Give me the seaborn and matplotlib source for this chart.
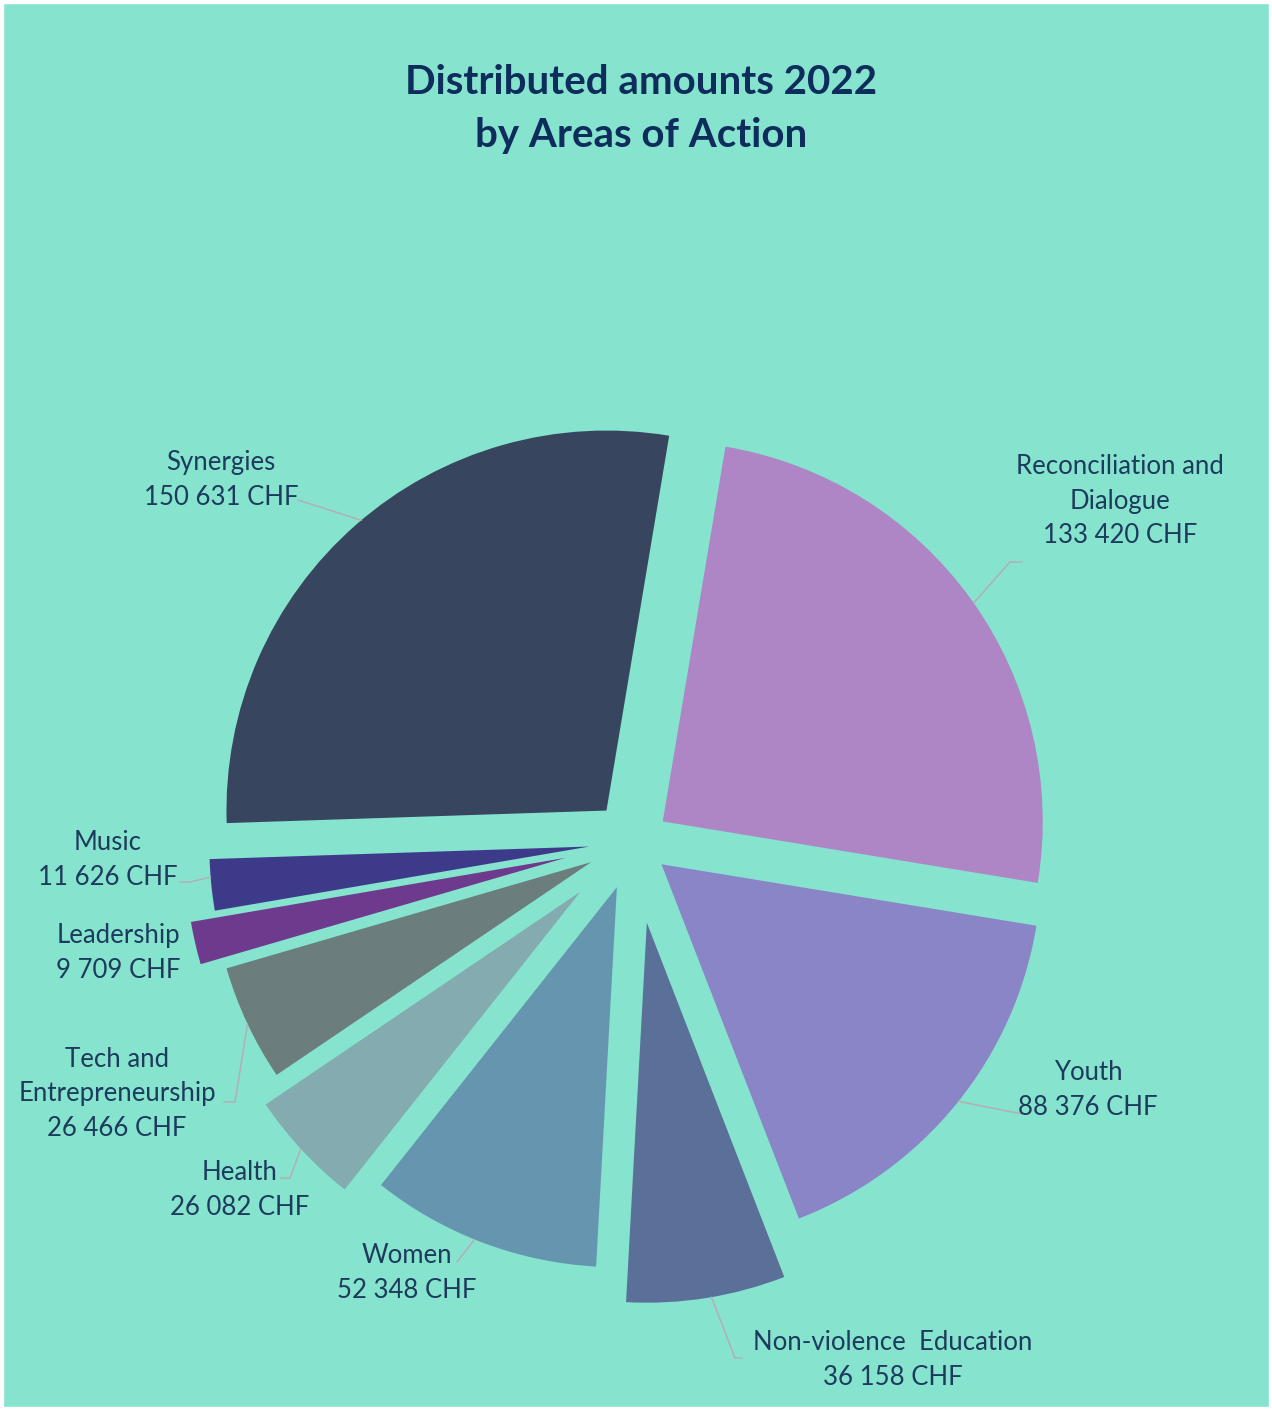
import matplotlib
matplotlib.use('Agg')
import matplotlib.pyplot as plt
import numpy as np
import seaborn as sns

# Data
areas = ['Reconciliation and\nDialogue', 'Youth', 'Non-violence  Education', 'Women',
         'Health', 'Tech and\nEntrepreneurship', 'Leadership', 'Music', 'Synergies']
amounts = [133420, 88376, 36158, 52348, 26082, 26466, 9709, 11626, 150631]
slice_colors = ['#ae85c5', '#8a85c6', '#5b7098', '#6696af', '#83abb0',
                '#6b7d7d', '#6e3a8e', '#3e3a8a', '#37455e']

# Style / layout
explode = [0.093, 0.093, 0.215, 0.127, 0.192, 0.124, 0.185, 0.118, 0.11]
label_pos = [(1120, 501), (1088, 1090), (893, 1360), (407, 1273), (240, 1190),
             (117, 1094), (118, 953), (108, 860), (221, 480)]
leader_angle = [35.1, -38.6, -80.2, -112, -137.4, -154.8, None, -175.4, 130.2]
leader_elbow = [[(1010, 562), (1022, 562)], [(1022, 1114)], [(735, 1358), (742, 1358)],
                [(457, 1262)], [(290, 1178), (281, 1178)], [(235, 1102), (224, 1102)],
                None, [(190, 882), (180, 882)], [(298, 500)]]

W, H = 1272, 1410
bg = '#86e3ce'
text_col = '#1d3b5c'
title_col = '#0e2c5c'
line_col = '#b4aeb4'
R = 380
cx, cy = 634, 842

sns.set_style('white')
plt.rcParams['font.family'] = ['Lato', 'DejaVu Sans']

fig = plt.figure(figsize=(W / 100, H / 100), dpi=100)
fig.patch.set_facecolor('white')
ax = fig.add_axes([3 / W, 3 / H, (W - 6) / W, (H - 6) / H])
ax.set_facecolor(bg)

def px(x, y):
    return x, H - y

# matplotlib offsets exploded wedges in data units, so scale by the radius
wedges, _ = ax.pie(amounts, colors=slice_colors, explode=[e * R for e in explode],
                   startangle=80.5, counterclock=False, radius=R, center=px(cx, cy),
                   wedgeprops={'linewidth': 0})

ax.set_xlim(3, W - 3)
ax.set_ylim(3, H - 3)
ax.set_aspect('equal')
ax.axis('off')
ax.add_patch(plt.Rectangle((3, 3), W - 6, H - 6, facecolor=bg, zorder=-5))

for w, name, val, pos, ang, elbow in zip(wedges, areas, amounts, label_pos,
                                         leader_angle, leader_elbow):
    label = name + '\n' + f'{val:,}'.replace(',', ' ') + ' CHF'
    tx, ty = px(*pos)
    ax.text(tx, ty, label, ha='center', va='center', multialignment='center',
            fontsize=18.5, color=text_col, linespacing=1.46)
    if ang is not None:
        wx, wy = w.center
        a = np.deg2rad(ang)
        pts = [(wx + R * np.cos(a), wy + R * np.sin(a))] + [px(*p) for p in elbow]
        xs, ys = zip(*pts)
        ax.plot(xs, ys, color=line_col, lw=1.1, zorder=1)

ax.text(*px(641, 109), 'Distributed amounts 2022\nby Areas of Action', ha='center',
        va='center', fontsize=29, fontweight='bold', color=title_col, linespacing=1.5)

fig.savefig('out.png', dpi=100, facecolor=fig.get_facecolor())
